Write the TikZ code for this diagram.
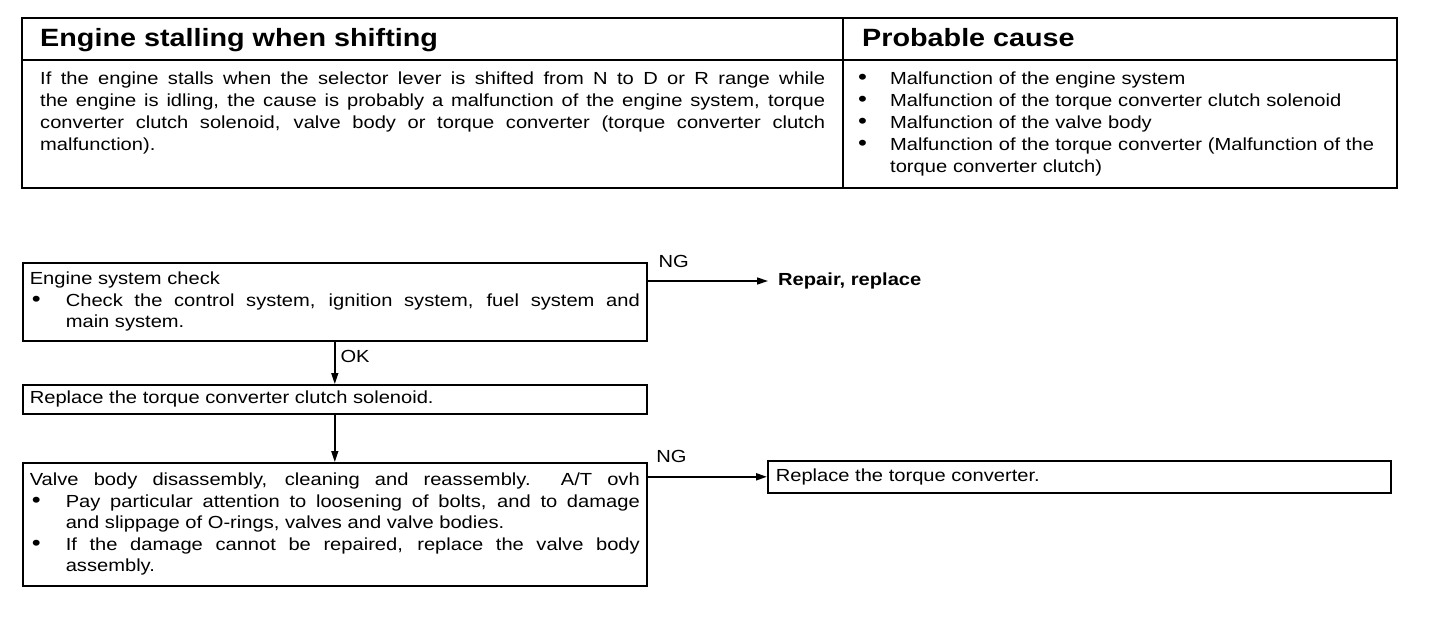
\documentclass[tikz,border=0pt]{standalone}
\usepackage{fontspec}
\setmainfont{Liberation Sans}[FakeStretch=1.15]
\usetikzlibrary{arrows.meta}
\newcommand{\bhang}[1][36pt]{\hangindent=#1\hangafter=1\makebox[#1][l]{\hspace{2pt}{\fontsize{22}{22}\selectfont\textbullet}}\ignorespaces}
\newcommand{\bitem}[1][36pt]{\par\noindent\bhang[#1]}
\begin{document}
\begin{tikzpicture}[x=1pt, y=-1pt, >={Triangle[length=11pt,width=7pt]},
  txt/.style={inner sep=0pt, font=\fontsize{17.5}{21.8}\selectfont},
  hd/.style={inner sep=0pt, anchor=base west, font=\fontsize{25}{30}\selectfont\bfseries},
  box/.style={draw, line width=1.6pt, anchor=north west, inner xsep=7pt, inner ysep=0pt,
    text width=610pt, align=justify, font=\fontsize{17.5}{21.5}\selectfont},
  conn/.style={line width=1.4pt}]
  \useasboundingbox (0,0) rectangle (1440,644);
  \draw[line width=2.2pt] (22,18) rectangle (1397,188);
  \draw[line width=1.8pt] (22,60) -- (1397,60);
  \draw[line width=1.4pt] (843,18) -- (843,188);
  \node[hd] (symptom) at (40,47) {Engine stalling when shifting};
  \node[hd] (causehd) at (862,47) {Probable cause};
  \node[txt, anchor=base west, text width=785pt, align=justify] (symptomtxt) at (40,85)
    {If the engine stalls when the selector lever is shifted from N to D or R range while\linebreak
     the engine is idling, the cause is probably a malfunction of the engine system, torque\linebreak
     converter clutch solenoid, valve body or torque converter (torque converter clutch\linebreak
     malfunction).};
  \node[txt, anchor=base west, text width=530pt, align=left] (causes) at (856,85)
    {\bhang[34pt] Malfunction of the engine system
     \bitem[34pt] Malfunction of the torque converter clutch solenoid
     \bitem[34pt] Malfunction of the valve body
     \bitem[34pt] Malfunction of the torque converter (Malfunction of the torque converter clutch)\par};
  \node[box, minimum height=78pt] (engchk) at (22,262)
    {Engine system check
     \bitem Check the control system, ignition system, fuel system and\linebreak main system.\par};
  \node[box, minimum height=29pt] (tccs) at (22,384)
    {Replace the torque converter clutch solenoid.};
  \node[box, minimum height=123pt] (valve) at (22,462)
    {{\parfillskip=0pt Valve body disassembly, cleaning and reassembly.\ \ A/T ovh\par}
     \bitem Pay particular attention to loosening of bolts, and to damage\linebreak
       and slippage of O-rings, valves and valve bodies.
     \bitem If the damage cannot be repaired, replace the valve body\linebreak assembly.\par};
  \node[box, minimum height=32pt, text width=607pt, inner xsep=8pt] (tconv) at (767,460)
    {Replace the torque converter.};
  \node[txt, anchor=west, font=\fontsize{17.5}{21}\selectfont\bfseries] (repair) at (778,281)
    {Repair, replace};
  \draw[conn, ->] (engchk.south) -- node[txt, pos=0.35, right=5pt] {OK} (tccs.north);
  \draw[conn, ->] (tccs.south) -- (valve.north);
  \draw[conn, ->, shorten >=10pt] (repair.west -| engchk.east) -- node[txt, pos=0.2, above=13pt] {NG} (repair.west);
  \draw[conn, ->, line width=2pt] (tconv.west -| valve.east) -- node[txt, pos=0.2, above=13pt] {NG} (tconv.west);
\end{tikzpicture}
\end{document}
